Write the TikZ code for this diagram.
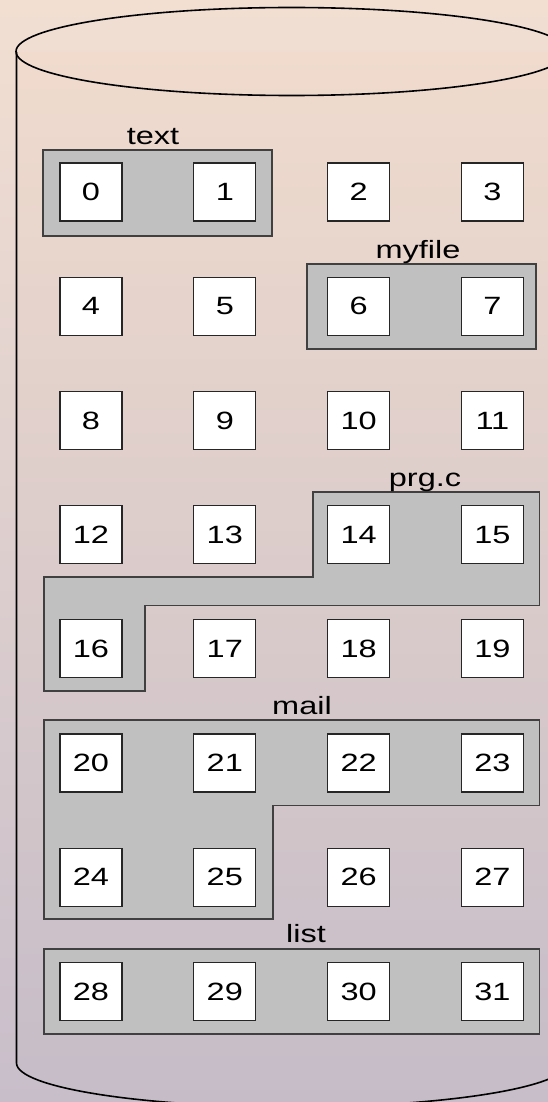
\documentclass[tikz,border=0pt]{standalone}
\usepackage{fontspec}
\newfontfamily\labfont[FakeStretch=1.3]{Liberation Sans}
\definecolor{bgtop}{RGB}{242,223,210}
\definecolor{bgmid}{RGB}{223,197,186}
\definecolor{bgbot}{RGB}{200,190,202}
\definecolor{cyltop}{RGB}{240,219,205}
\definecolor{cylmid}{RGB}{220,194,184}
\definecolor{cylbot}{RGB}{197,188,200}
\definecolor{grpfill}{RGB}{192,192,192}
\definecolor{grpline}{RGB}{64,64,64}
\tikzset{
  cell/.style={draw=black!85, line width=1.1pt, fill=white, minimum width=62pt, minimum height=58pt, inner sep=0pt, font=\labfont\fontsize{25}{30}\selectfont},
  grp/.style={draw=grpline, line width=1.2pt, fill=grpfill, line join=miter},
  glabel/.style={anchor=base, inner sep=0pt, font=\labfont\fontsize{25}{30}\selectfont},
  cyl/.style={draw=black, line width=1.6pt}
}
\begin{document}
\begin{tikzpicture}[x=1pt,y=-1pt]
\useasboundingbox (0,0) rectangle (548,1102);
\shade[top color=bgtop, middle color=bgmid, bottom color=bgbot] (0,0) rectangle (548,1102);
% cylinder body
\shade[top color=cyltop, middle color=cylmid, bottom color=cylbot]
  (16.5,52) -- (16.5,1063) arc[start angle=180, end angle=360, x radius=275.6pt, y radius=44pt] -- (567.7,52) -- cycle;
\draw[cyl] (16.5,52) -- (16.5,1063) arc[start angle=180, end angle=360, x radius=275.6pt, y radius=44pt] -- (567.7,52);
\draw[cyl] (291.6,51.5) ellipse [x radius=275.6pt, y radius=44pt];
% groups
\draw[grp] (43,150) rectangle (272,236);
\draw[grp] (307,264) rectangle (536,349);
\draw[grp] (313,492) -- (539.5,492) -- (539.5,605.5) -- (145,605.5) -- (145,691) -- (44,691) -- (44,577) -- (313,577) -- cycle;
\draw[grp] (44,720) -- (539.5,720) -- (539.5,805.5) -- (273,805.5) -- (273,919) -- (44,919) -- cycle;
\draw[grp] (44,949) rectangle (539.5,1034);
% group labels
\node[glabel] (ltext) at (153,145) {text};
\node[glabel] (lmyfile) at (418,258) {myfile};
\node[glabel] (lprgc) at (425,486) {prg.c};
\node[glabel] (lmail) at (302,714) {mail};
\node[glabel] (llist) at (306,942) {list};
% cells
\foreach \r in {0,...,7}{
  \foreach \c in {0,...,3}{
    \pgfmathtruncatemacro{\n}{4*\r+\c}
    \node[cell] (b\n) at ({91+133.8*\c},{192+114.2*\r}) {\n};
  }
}
\end{tikzpicture}
\end{document}
